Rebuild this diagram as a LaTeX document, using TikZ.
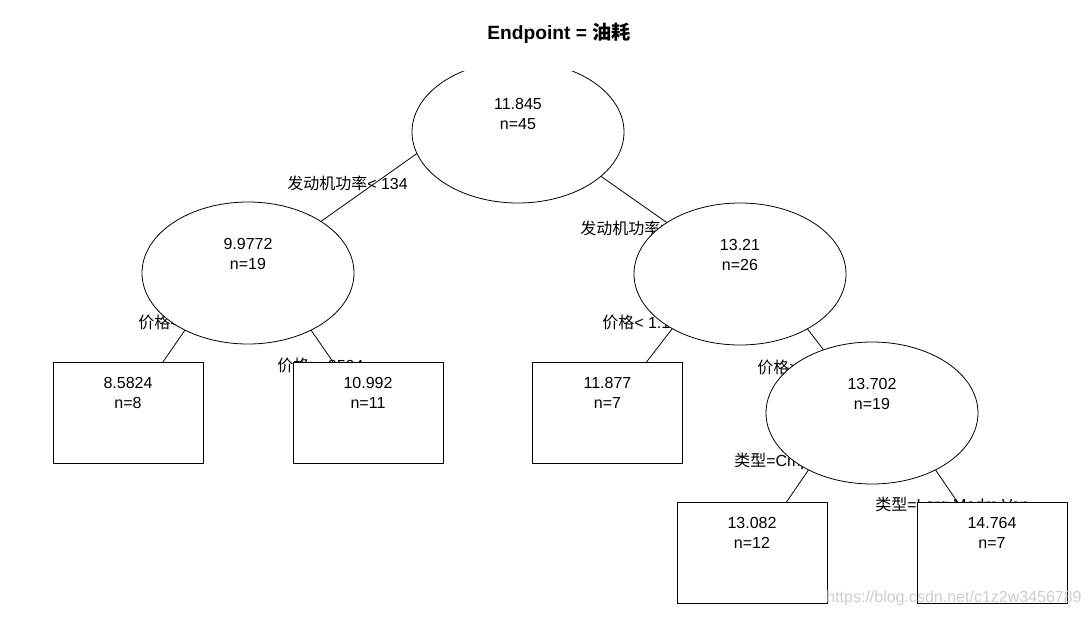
\documentclass[tikz,border=0pt]{standalone}
\usepackage{fontspec}
\setmainfont{Liberation Sans}
\newfontfamily\cjk{Noto Sans CJK SC}
\usetikzlibrary{shapes.geometric}
\newcommand{\zh}[1]{{\cjk #1}}
\tikzset{
	inner/.style={ellipse, draw, fill=white, line width=0.6pt,
			minimum width=159pt, minimum height=106.5pt, inner sep=0pt},
	leaf/.style={rectangle, draw, fill=white, line width=0.6pt,
			minimum width=112.5pt, minimum height=75.75pt, inner sep=0pt},
	val/.style={align=center, inner sep=0pt, font=\fontsize{12}{15}\selectfont},
	split/.style={anchor=west, inner sep=0pt, font=\fontsize{12}{15}\selectfont},
	branch/.style={line width=0.6pt}
}

\begin{document}
\begin{tikzpicture}[x=0.75pt,y=-0.75pt]
	\useasboundingbox (0,0) rectangle (1089,618);
	% centres of the tree nodes
	\coordinate (root) at (518,132);
	\coordinate (hpLow) at (248,273);
	\coordinate (hpHigh) at (740,274);
	\coordinate (priceHigh) at (872,413);
	\coordinate (leafA) at (128,412.5);
	\coordinate (leafB) at (368,412.5);
	\coordinate (leafC) at (607.5,412.5);
	\coordinate (leafD) at (752,552.5);
	\coordinate (leafE) at (992,552.5);
	% where the branches leave a parent
	\coordinate (rootL) at (518,82);
	\coordinate (rootR) at (518,118);
	\coordinate (hpLowTop) at (248,239);
	\coordinate (hpHighTop) at (740,241);
	\coordinate (priceHighTop) at (872,377);

	% branches
	\draw[branch] (rootL) -- (hpLow);
	\draw[branch] (rootR) -- (hpHigh);
	\draw[branch] (hpLowTop) -- (leafA);
	\draw[branch] (hpLowTop) -- (leafB);
	\draw[branch] (hpHighTop) -- (leafC);
	\draw[branch] (hpHighTop) -- (priceHigh);
	\draw[branch] (priceHighTop) -- (leafD);
	\draw[branch] (priceHighTop) -- (leafE);

	% split labels (partly covered by the nodes)
	\node[split] (s1) at (287,183) {\zh{发动机功率}< 134};
	\node[split] (s2) at (580,228) {\zh{发动机功率}>=134};
	\node[split] (s3) at (138,322) {\zh{价格}< 8504};
	\node[split] (s4) at (277,365) {\zh{价格}>=8504};
	\node[split] (s5) at (602,322) {\zh{价格}< 1.104e+04};
	\node[split] (s6) at (757,367) {\zh{价格}>=1.104e+04};
	\node[split] (s7) at (734,461) {\zh{类型}=Cmpc,Smll,Sprt};
	\node[split] (s8) at (875,505) {\zh{类型}=Larg,Medm,Van};

	% nodes
	\begin{scope}
		\clip (0,71) rectangle (1089,618);
		\node[inner] (n1) at (root) {};
	\end{scope}
	\node[inner] (n2) at (hpLow) {};
	\node[inner] (n3) at (hpHigh) {};
	\node[inner] (n7) at (priceHigh) {};
	\node[leaf] (n4) at (leafA) {};
	\node[leaf] (n5) at (leafB) {};
	\node[leaf] (n6) at (leafC) {};
	\node[leaf] (n14) at (leafD) {};
	\node[leaf] (n15) at (leafE) {};

	% fitted values
	\node[val] (v1) at (518,114) {11.845\\n=45};
	\node[val] (v2) at (248,254) {9.9772\\n=19};
	\node[val] (v3) at (740,255) {13.21\\n=26};
	\node[val] (v7) at (872,394) {13.702\\n=19};
	\node[val] (v4) at (128,393) {8.5824\\n=8};
	\node[val] (v5) at (368,393) {10.992\\n=11};
	\node[val] (v6) at (607.5,393) {11.877\\n=7};
	\node[val] (v14) at (752,533) {13.082\\n=12};
	\node[val] (v15) at (992,533) {14.764\\n=7};

	\node[font=\bfseries\fontsize{14.4}{17}\selectfont] (title) at (559,33) {Endpoint = \zh{油耗}};
	\node[text=gray!40, font=\fontsize{12}{15}\selectfont] (mark) at (954,598) {https://blog.csdn.net/c1z2w3456789};
\end{tikzpicture}
\end{document}
